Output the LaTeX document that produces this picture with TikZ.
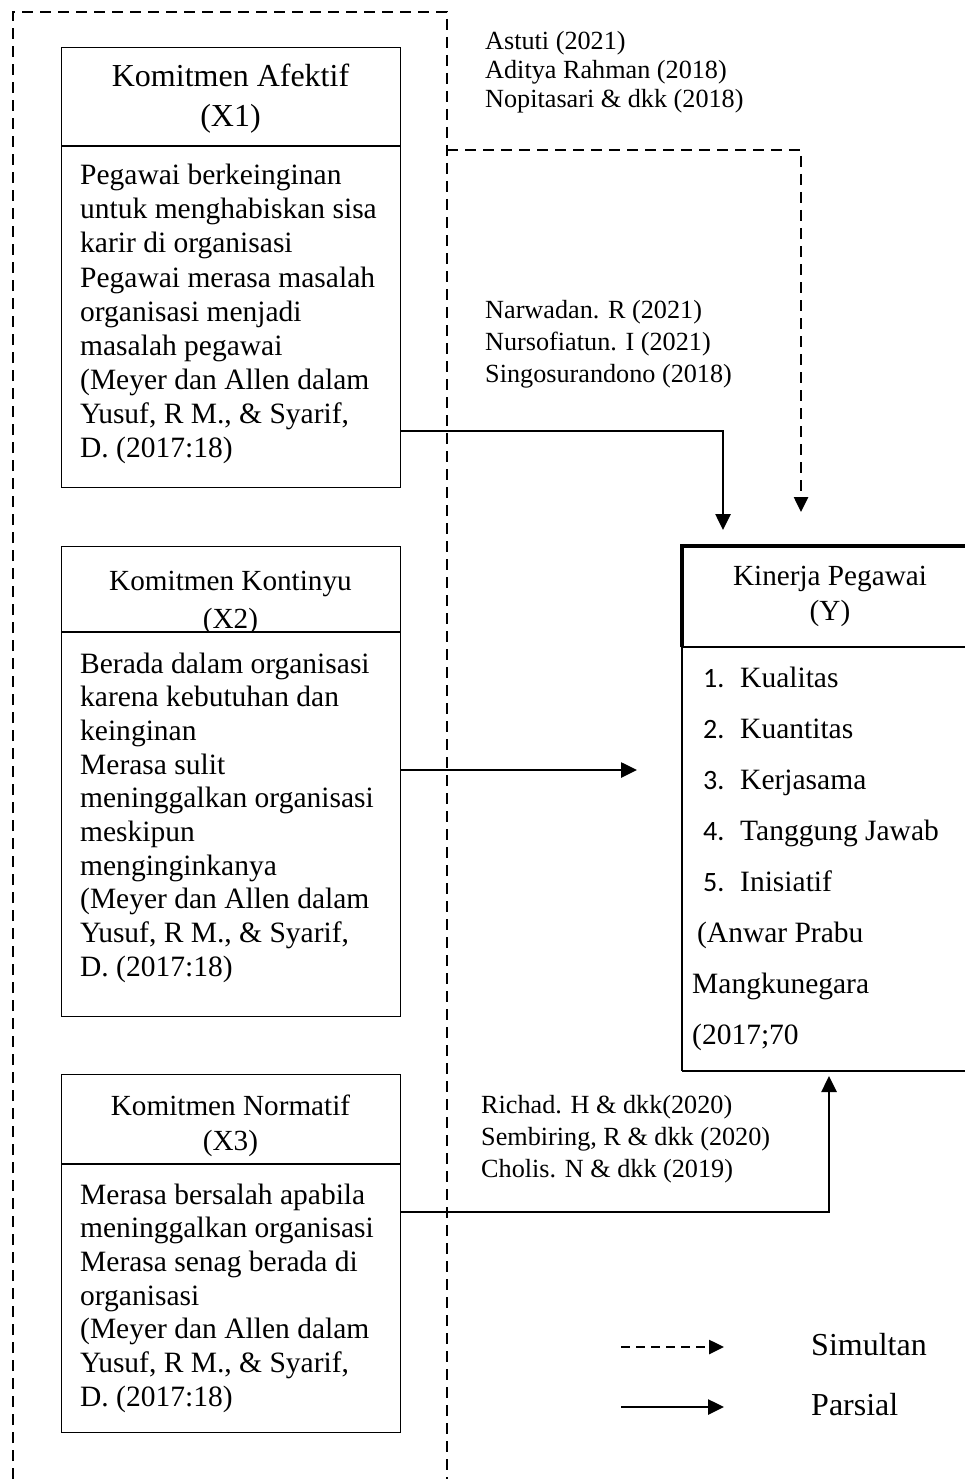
\documentclass[tikz,border=0pt]{standalone}
\usepackage{fontspec}
\setmainfont{Liberation Serif}
\newfontfamily\numfont{Carlito}
\usetikzlibrary{arrows.meta}
\newcommand\blines[6]{\foreach \t [count=\i] in {#6}{\node[#5] (#1-\i) at (#2,{#3+(\i-1)*#4}) {\t};}}
\begin{document}
\begin{tikzpicture}[x=1pt,y=-1pt,
  box/.style={draw, line width=1.3pt, inner sep=0, anchor=north west},
  conn/.style={line width=2.6pt, -{Triangle[length=16pt,width=15pt]}},
  simul/.style={line width=2.6pt, dash pattern=on 11pt off 7pt, -{Triangle[length=15pt,width=14pt]}},
  frame/.style={line width=2.6pt, dash pattern=on 11pt off 7pt},
  body/.style={font=\fontsize{29.5}{34}\selectfont, anchor=base west, inner sep=0},
  cite/.style={font=\fontsize{26.2}{29}\selectfont, anchor=base west, inner sep=0},
  ttl/.style={font=\fontsize{29.2}{34}\selectfont, anchor=base, inner sep=0},
  num/.style={font=\numfont\fontsize{28}{34}\selectfont, anchor=base west, inner sep=0},
]
\useasboundingbox (0,0) rectangle (965,1479);

% outer dashed frame (simultan)
\draw[frame] (13,1479) -- (13,12) -- (447,12) -- (447,1479);
\coordinate (s0) at (447,150);
\coordinate (t2) at (801,512);
\draw[simul] (s0) -| (t2);

% X1 box
\node[box, minimum width=339pt, minimum height=440pt] (x1) at (61,47) {};
\draw[line width=1.3pt] (61,146) -- (400,146);
\node[ttl, font=\fontsize{32}{38}\selectfont] (x1t) at (230.5,87) {Komitmen Afektif};
\node[ttl, font=\fontsize{32}{38}\selectfont] (x1s) at (230.5,127) {(X1)};
\blines{x1b}{80}{185}{34}{body}{{Pegawai berkeinginan},{untuk menghabiskan sisa},{karir di organisasi},{Pegawai merasa masalah},{organisasi menjadi},{masalah pegawai},{(Meyer dan Allen dalam},{Yusuf, R M., \& Syarif,},{D. (2017:18)}}

% X2 box
\node[box, minimum width=339pt, minimum height=470pt] (x2) at (61,546) {};
\node[ttl] (x2t) at (230.5,590) {Komitmen Kontinyu};
\node[ttl] (x2s) at (230.5,628) {(X2)};
\fill[white] (62,632) rectangle (399,640);
\draw[line width=1.3pt] (61,632) -- (400,632);
\blines{x2b}{80}{673}{33.7}{body}{{Berada dalam organisasi},{karena kebutuhan dan},{keinginan},{Merasa sulit},{meninggalkan organisasi},{meskipun},{menginginkanya},{(Meyer dan Allen dalam},{Yusuf, R M., \& Syarif,},{D. (2017:18)}}

% X3 box
\node[box, minimum width=339pt, minimum height=358pt] (x3) at (61,1074) {};
\draw[line width=1.3pt] (61,1164) -- (400,1164);
\node[ttl] (x3t) at (230.5,1115) {Komitmen Normatif};
\node[ttl] (x3s) at (230.5,1150) {(X3)};
\blines{x3b}{80}{1204}{33.7}{body}{{Merasa bersalah apabila},{meninggalkan organisasi},{Merasa senag berada di},{organisasi},{(Meyer dan Allen dalam},{Yusuf, R M., \& Syarif,},{D. (2017:18)}}

% Y box (open on the right)
\node[inner sep=0, anchor=north west, minimum width=284pt, minimum height=525pt] (y) at (682,546) {};
\draw[line width=3.2pt] (682,647) -- (682,546) -- (966,546);
\draw[line width=1.8pt] (682,647) -- (682,1071);
\draw[line width=1.3pt] (682,1071) -- (966,1071);
\draw[line width=1.3pt] (682,647) -- (966,647);
\node[ttl] (yt) at (830,585) {Kinerja Pegawai};
\node[ttl] (ys) at (830,620) {(Y)};
\blines{yn}{703}{687}{51}{num}{1.,2.,3.,4.,5.}
\blines{yi}{740}{687}{51}{body}{{Kualitas},{Kuantitas},{Kerjasama},{Tanggung Jawab},{Inisiatif}}
\blines{yc}{692}{942}{51}{body}{{\,(Anwar Prabu},{Mangkunegara},{(2017;70}}

% citations
\blines{c1}{485}{50}{29}{cite}{{Astuti (2021)},{Aditya Rahman (2018)},{Nopitasari \& dkk (2018)}}
\blines{c2}{485}{318}{32}{cite}{{Narwadan. R (2021)},{Nursofiatun. I (2021)},{Singosurandono (2018)}}
\blines{c3}{481}{1113}{32}{cite}{{Richad. H \& dkk(2020)},{Sembiring, R \& dkk (2020)},{Cholis. N \& dkk (2019)}}

% partial connectors
\coordinate (a1) at (400,431);
\coordinate (t1) at (723,530);
\draw[conn] (a1) -| (t1);
\coordinate (a2) at (400,770);
\coordinate (t3) at (637,770);
\draw[conn] (a2) -- (t3);
\coordinate (a3) at (400,1212);
\coordinate (t4) at (829,1076);
\draw[conn] (a3) -| (t4);

% legend
\coordinate (l1a) at (621,1347);
\coordinate (l1b) at (724,1347);
\coordinate (l2a) at (621,1407);
\coordinate (l2b) at (724,1407);
\draw[simul, dash pattern=on 9pt off 6pt] (l1a) -- (l1b);
\draw[conn] (l2a) -- (l2b);
\node[ttl, anchor=base west, font=\fontsize{32}{38}\selectfont] (ls) at (811,1355) {Simultan};
\node[ttl, anchor=base west, font=\fontsize{32}{38}\selectfont] (lp) at (811,1415) {Parsial};
\end{tikzpicture}
\end{document}
